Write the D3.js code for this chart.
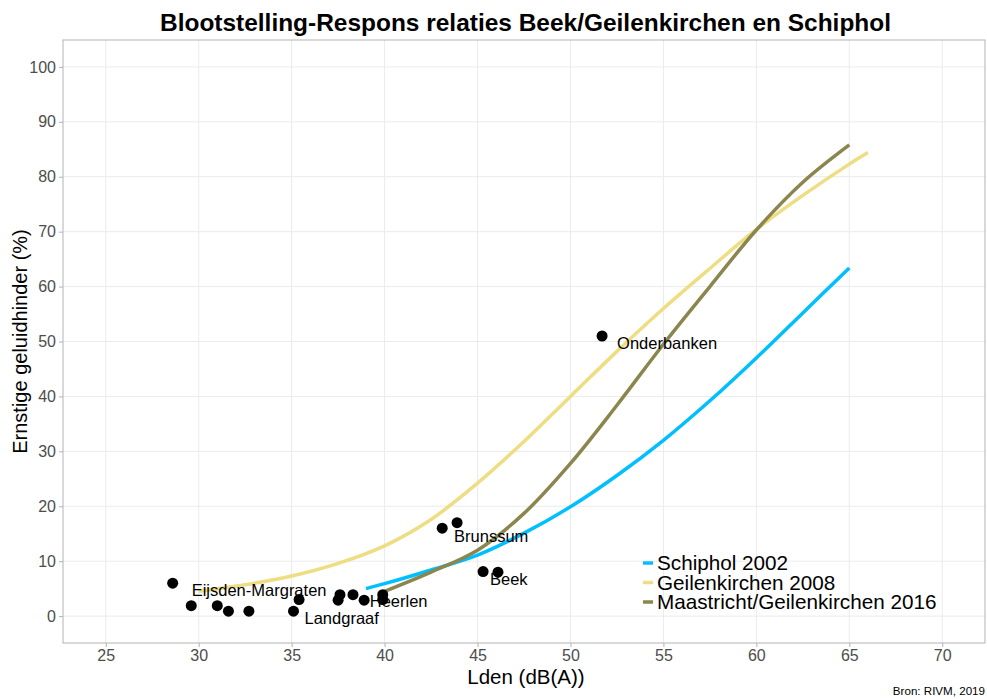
<!DOCTYPE html>
<html>
<head>
<meta charset="utf-8">
<script src="https://cdn.jsdelivr.net/npm/d3@7"></script>
<style>
    body { margin: 0; background: #fff; }
    text { font-family: "Liberation Sans", Arial, sans-serif; }
</style>
</head>
<body>
<svg id="chart" width="987" height="699"></svg>
<script>
// observed points (Lden, % ernstig gehinderd)
const pointX = [28.6, 29.6, 31.0, 31.6, 32.7, 35.1, 35.4, 37.5, 37.6, 38.3, 38.9, 39.9, 39.9, 43.1, 43.9, 45.3, 46.1, 51.7];
const pointY = [6.0, 1.9, 1.9, 0.9, 0.9, 0.9, 3.0, 2.9, 3.9, 3.9, 2.9, 3.9, 3.0, 16.0, 17.0, 8.1, 8.0, 51.0];

// labelled points: index into the arrays above
const labelNames = ["Eijsden-Margraten", "Landgraaf", "Heerlen", "Brunssum", "Beek", "Onderbanken"];
const labelPoint = [0, 5, 12, 14, 16, 17];

// curves
const schipholX = [39, 40, 42.5, 45, 47.5, 50, 52.5, 55, 57.5, 60, 62.5, 65];
const schipholY = [5.0, 5.9, 8.4, 11.1, 15.1, 19.9, 25.6, 32.0, 39.2, 47.0, 55.2, 63.4];
const geilenX = [30, 32.5, 35, 37.5, 40, 42.5, 45, 47.5, 50, 52.5, 55, 57.5, 60, 62.5, 65, 66];
const geilenY = [4.5, 5.7, 7.3, 9.6, 12.8, 17.6, 24.2, 31.8, 40.0, 48.2, 56.0, 63.3, 70.4, 76.6, 82.3, 84.4];
const maastrichtX = [40, 42.5, 45, 47.5, 50, 52.5, 55, 57.5, 60, 62.5, 65];
const maastrichtY = [4.5, 8.0, 12.0, 18.7, 27.8, 38.4, 49.5, 60.0, 70.3, 79.0, 85.8];

const seriesNames = ["Schiphol 2002", "Geilenkirchen 2008", "Maastricht/Geilenkirchen 2016"];
const xTicks = [25, 30, 35, 40, 45, 50, 55, 60, 65, 70];
const yTicks = [0, 10, 20, 30, 40, 50, 60, 70, 80, 90, 100];

const colors = ["#00BFFF", "#EEDD82", "#8B864E"];
// label offsets in px from the point (ggrepel placement)
const labelOffsets = [[19, 13], [11, 13], [-13, 7], [-3, 19], [-8, 13], [15, 13]];

const svg = d3.select("#chart");
const margin = { left: 63, right: 2, top: 40, bottom: 56 };
const W = 987, H = 699;

const x = d3.scaleLinear().domain([22.7, 72.3]).range([margin.left, W - margin.right]);
const y = d3.scaleLinear().domain([-4.9, 104.9]).range([H - margin.bottom, margin.top]);

// grid
svg.append("g")
    .selectAll("line")
    .data(xTicks)
    .join("line")
    .attr("x1", (d) => x(d)).attr("x2", (d) => x(d))
    .attr("y1", margin.top).attr("y2", H - margin.bottom)
    .attr("stroke", "#EBEBEB").attr("stroke-width", 1);
svg.append("g")
    .selectAll("line")
    .data(yTicks)
    .join("line")
    .attr("y1", (d) => y(d)).attr("y2", (d) => y(d))
    .attr("x1", margin.left).attr("x2", W - margin.right)
    .attr("stroke", "#EBEBEB").attr("stroke-width", 1);

// axes
const xAxis = svg.append("g")
    .attr("transform", `translate(0,${H - margin.bottom})`)
    .call(d3.axisBottom(x).tickValues(xTicks).tickSize(4).tickPadding(3));
const yAxis = svg.append("g")
    .attr("transform", `translate(${margin.left},0)`)
    .call(d3.axisLeft(y).tickValues(yTicks).tickSize(4).tickPadding(3));
[xAxis, yAxis].forEach((g) => {
    g.select(".domain").remove();
    g.selectAll("line").attr("stroke", "#B3B3B3");
    g.selectAll("text")
        .attr("fill", "#4D4D4D")
        .style("font-size", "16px")
        .style("font-family", "Liberation Sans, Arial, sans-serif");
});

// panel border
svg.append("rect")
    .attr("x", margin.left).attr("y", margin.top)
    .attr("width", W - margin.right - margin.left)
    .attr("height", H - margin.bottom - margin.top)
    .attr("fill", "none").attr("stroke", "#B3B3B3").attr("stroke-width", 1);

// curves
const line = d3.line()
    .x((d) => x(d[0]))
    .y((d) => y(d[1]))
    .curve(d3.curveCatmullRom.alpha(0.5));
const curves = [
    d3.zip(schipholX, schipholY),
    d3.zip(geilenX, geilenY),
    d3.zip(maastrichtX, maastrichtY),
];
curves.forEach((c, i) => {
    svg.append("path")
        .attr("d", line(c))
        .attr("fill", "none")
        .attr("stroke", colors[i])
        .attr("stroke-width", 3.5);
});

// points
svg.append("g")
    .selectAll("circle")
    .data(d3.zip(pointX, pointY))
    .join("circle")
    .attr("cx", (d) => x(d[0]))
    .attr("cy", (d) => y(d[1]))
    .attr("r", 5.5)
    .attr("fill", "#000");

// point labels
svg.append("g")
    .selectAll("text")
    .data(labelNames)
    .join("text")
    .attr("x", (d, i) => x(pointX[labelPoint[i]]) + labelOffsets[i][0])
    .attr("y", (d, i) => y(pointY[labelPoint[i]]) + labelOffsets[i][1])
    .style("font-size", "16.5px")
    .attr("fill", "#000")
    .text((d) => d);

// legend
const legend = svg.append("g").attr("transform", "translate(643,563)");
seriesNames.forEach((name, i) => {
    legend.append("line")
        .attr("x1", 0).attr("x2", 10)
        .attr("y1", i * 19.5).attr("y2", i * 19.5)
        .attr("stroke", colors[i]).attr("stroke-width", 3.5);
    legend.append("text")
        .attr("x", 14).attr("y", i * 19.5)
        .attr("dy", "0.35em")
        .style("font-size", "20.7px")
        .text(name);
});

// titles
svg.append("text")
    .attr("x", 525.5).attr("y", 31)
    .attr("text-anchor", "middle")
    .attr("textLength", 731)
    .attr("lengthAdjust", "spacingAndGlyphs")
    .style("font-size", "24px")
    .style("font-weight", "bold")
    .text("Blootstelling-Respons relaties Beek/Geilenkirchen en Schiphol");

svg.append("text")
    .attr("x", 526).attr("y", 684)
    .attr("text-anchor", "middle")
    .style("font-size", "20.5px")
    .text("Lden (dB(A))");

svg.append("text")
    .attr("transform", `translate(27,${(margin.top + H - margin.bottom) / 2}) rotate(-90)`)
    .attr("text-anchor", "middle")
    .style("font-size", "20px")
    .text("Ernstige geluidhinder (%)");

svg.append("text")
    .attr("x", 985).attr("y", 695)
    .attr("text-anchor", "end")
    .style("font-size", "11.6px")
    .text("Bron: RIVM, 2019");
</script>
</body>
</html>
